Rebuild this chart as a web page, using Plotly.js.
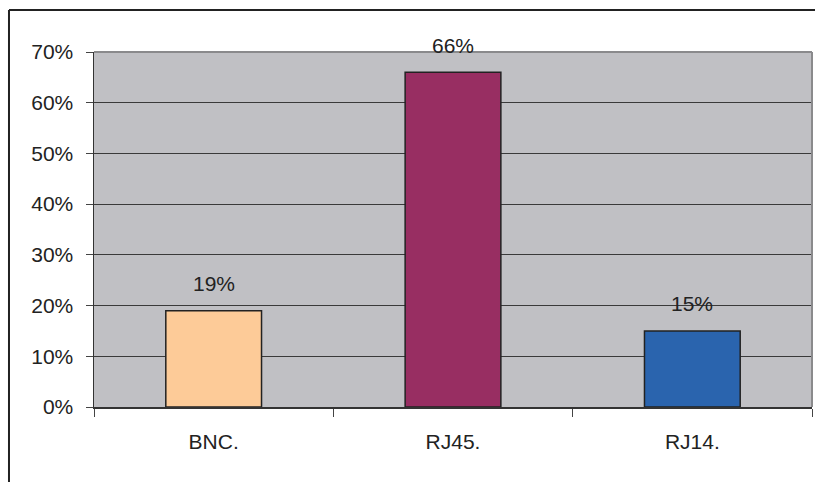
<!DOCTYPE html>
<html>
<head>
<meta charset="utf-8">
<script src="https://cdn.plot.ly/plotly-3.0.1.min.js"></script>
<style>
  html, body { margin: 0; padding: 0; background: #fff; overflow: hidden; }
  #chart { width: 815px; height: 482px; overflow: hidden; }
</style>
</head>
<body>
<div id="chart"></div>
<script>
// Connector types and their share of responses (%)
const connectors = ['BNC.', 'RJ45.', 'RJ14.'];
const shares = [19, 66, 15];
const barColors = ['#FDCB98', '#982E62', '#2A64AE'];
const yTicks = [0, 10, 20, 30, 40, 50, 60, 70];

const FONT = 'Liberation Sans, Arial, sans-serif';
const FS = 21;

const trace = {
  type: 'bar',
  x: connectors,
  y: shares,
  width: 0.4,
  marker: { color: barColors, line: { color: '#222', width: 1.5 } },
  hoverinfo: 'skip'
};

// value labels floating above each bar
const labels = connectors.map((c, i) => ({
  x: c, y: shares[i], xref: 'x', yref: 'y',
  text: shares[i] + '%', showarrow: false,
  yshift: 27, font: { family: FONT, size: FS, color: '#222' }
}));

const layout = {
  width: 815, height: 482,
  margin: { l: 94, r: 3, t: 52, b: 75 },
  paper_bgcolor: '#ffffff',
  plot_bgcolor: '#C0C0C4',
  showlegend: false,
  font: { family: FONT, size: FS, color: '#222' },
  xaxis: {
    type: 'category',
    tickson: 'boundaries',
    ticks: 'outside', ticklen: 8, tickcolor: '#444', tickwidth: 1,
    ticklabelstandoff: 15,
    showgrid: false,
    showline: true, linecolor: '#333', linewidth: 1.5,
    tickfont: { family: FONT, size: FS, color: '#222' }
  },
  yaxis: {
    range: [0, 70],
    tickvals: yTicks,
    ticktext: yTicks.map(v => v + '%'),
    ticks: 'outside', ticklen: 7, tickcolor: '#444', tickwidth: 1,
    ticklabelstandoff: 8,
    showgrid: true, gridcolor: '#3a3a3a', gridwidth: 1,
    showline: true, linecolor: '#333', linewidth: 1.5,
    zeroline: false,
    tickfont: { family: FONT, size: FS, color: '#222' }
  },
  annotations: labels,
  shapes: [
    // grey frame on top and right of the plot area
    { type: 'line', xref: 'paper', yref: 'paper', x0: 0, x1: 1, y0: 1, y1: 1,
      line: { color: '#8a8a8c', width: 2 }, layer: 'above' },
    { type: 'line', xref: 'paper', yref: 'paper', x0: 1, x1: 1, y0: 0, y1: 1,
      line: { color: '#8a8a8c', width: 2 }, layer: 'above' },
    // outer chart border (left and top edges)
    { type: 'line', xref: 'paper', yref: 'paper',
      x0: -0.1184, x1: -0.1184, y0: -0.4, y1: 1.118,
      line: { color: '#222', width: 2 }, layer: 'below' },
    { type: 'line', xref: 'paper', yref: 'paper',
      x0: -0.1184, x1: 1.2, y0: 1.118, y1: 1.118,
      line: { color: '#222', width: 2 }, layer: 'below' }
  ]
};

Plotly.newPlot('chart', [trace], layout, { displayModeBar: false, staticPlot: true });
</script>
</body>
</html>
